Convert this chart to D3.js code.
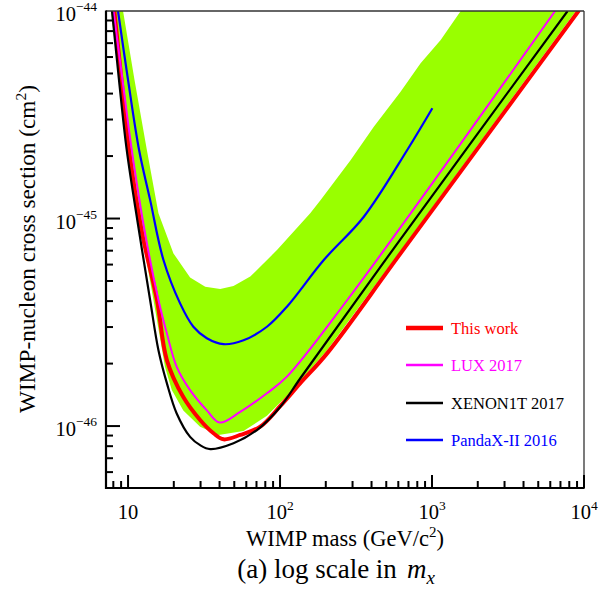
<!DOCTYPE html>
<html>
<head>
<meta charset="utf-8">
<script src="https://cdn.jsdelivr.net/npm/d3@7/dist/d3.min.js"></script>
<style>
  body { margin: 0; background: #fff; }
  svg { display: block; font-family: "Liberation Serif", "Times New Roman", serif; }
</style>
</head>
<body>
<svg id="chart" width="616" height="598"></svg>
<script>
// WIMP mass (GeV/c^2) and SI WIMP-nucleon cross section (cm^2) for each limit curve
const thisWorkMass  = [8.12, 9.06, 10.15, 12.37, 15.5, 18.0, 23.1, 29.8, 36.5, 42.5, 54.7, 74.1, 100.5, 136, 204, 621, 9200];
const thisWorkSigma = [1.0e-44, 4.65e-45, 2.14e-45, 8.51e-46, 4.05e-46, 2.08e-46, 1.38e-46, 1.07e-46, 9.23e-47, 8.63e-47, 9.06e-47, 9.93e-47, 1.25e-46, 1.61e-46, 2.24e-46, 6.79e-46, 1.0e-44];

const luxMass  = [8.02, 9.20, 10.58, 12.94, 15.85, 18.0, 20.9, 25.6, 33.0, 40.1, 54.7, 82.0, 111, 277, 6460];
const luxSigma = [1.0e-44, 4.65e-45, 2.14e-45, 8.49e-46, 4.05e-46, 2.80e-46, 1.93e-46, 1.49e-46, 1.19e-46, 1.04e-46, 1.17e-46, 1.44e-46, 1.73e-46, 4.05e-46, 1.0e-44];

const xenonMass  = [7.84, 8.72, 9.80, 11.64, 13.97, 15.85, 18.0, 20.9, 25.6, 29.8, 34.7, 49.4, 70.5, 100.5, 136, 621, 7800];
const xenonSigma = [1.0e-44, 4.65e-45, 2.14e-45, 9.31e-46, 4.05e-46, 2.32e-46, 1.61e-46, 1.15e-46, 8.87e-47, 8.09e-47, 7.74e-47, 8.26e-47, 9.57e-47, 1.24e-46, 1.70e-46, 7.96e-46, 1.0e-44];

const pandaxMass  = [8.59, 10.0, 11.82, 13.97, 17.1, 22.0, 26.9, 33.0, 42.5, 57.5, 82.0, 111, 194, 356, 687, 1005];
const pandaxSigma = [1.0e-44, 4.65e-45, 2.14e-45, 1.23e-45, 6.31e-46, 3.90e-46, 3.01e-46, 2.65e-46, 2.48e-46, 2.59e-46, 3.01e-46, 3.76e-46, 6.31e-46, 1.02e-45, 2.14e-45, 3.40e-45];

// expected sensitivity band: upper edge (low to high mass), lower edge (high to low mass)
const bandUpperMass  = [9.27, 11.03, 13.3, 15.85, 19.9, 25.6, 32.2, 40.4, 49.4, 63.7, 95.5, 158, 185, 291, 414, 621, 841, 1140, 1545];
const bandUpperSigma = [1.0e-44, 4.65e-45, 2.14e-45, 1.06e-45, 6.79e-46, 5.20e-46, 4.69e-46, 4.57e-46, 4.73e-46, 5.25e-46, 7.05e-46, 1.06e-45, 1.23e-45, 1.91e-45, 2.77e-45, 4.08e-45, 5.60e-45, 7.25e-45, 1.0e-44];
const bandLowerMass  = [8850, 1897, 603, 204, 136, 111, 82.0, 57.5, 39.4, 29.8, 23.1, 19.4, 17.5, 14.7, 12.0, 9.85, 8.72, 7.73];
const bandLowerSigma = [1.0e-44, 2.14e-45, 6.79e-46, 2.32e-46, 1.65e-46, 1.40e-46, 1.12e-46, 9.46e-47, 9.06e-47, 9.93e-47, 1.19e-46, 1.49e-46, 1.93e-46, 4.05e-46, 9.31e-46, 2.14e-45, 4.65e-45, 1.0e-44];

const xDomain = [7.16, 1e4];
const yDomain = [5.03e-47, 1e-44];
const xMajorTicks = [10, 100, 1000, 10000];
const xTickExponents = ["", "2", "3", "4"];
const yMajorTicks = [1e-44, 1e-45, 1e-46];
const yTickExponents = ["\u221244", "\u221245", "\u221246"];

const legendNames = ["This work", "LUX 2017", "XENON1T 2017", "PandaX-II 2016"];
const legendColors = ["#ff0000", "#ff00ff", "#000000", "#0000ff"];

const svg = d3.select("#chart");
const margin = { left: 106, top: 11, right: 32, bottom: 110 };
const W = 616 - margin.left - margin.right;
const H = 598 - margin.top - margin.bottom;

const x = d3.scaleLog().domain(xDomain).range([0, W]);
const y = d3.scaleLog().domain(yDomain).range([H, 0]);

const g = svg.append("g").attr("transform", `translate(${margin.left},${margin.top})`);

g.append("clipPath").attr("id", "plotClip")
  .append("rect").attr("width", W).attr("height", H);

const plot = g.append("g").attr("clip-path", "url(#plotClip)");

// band polygon
const bandPts = bandUpperMass.map((m, i) => [m, bandUpperSigma[i]])
  .concat(bandLowerMass.map((m, i) => [m, bandLowerSigma[i]]));
plot.append("path")
  .attr("d", d3.line().x(d => x(d[0])).y(d => y(d[1])).curve(d3.curveLinearClosed)(bandPts))
  .attr("fill", "#99ff00")
  .attr("stroke", "none");

const lineGen = d3.line().x(d => x(d[0])).y(d => y(d[1])).curve(d3.curveCatmullRom.alpha(0.5));
const series = [
  { mass: thisWorkMass, sigma: thisWorkSigma, color: legendColors[0], width: 4 },
  { mass: luxMass, sigma: luxSigma, color: legendColors[1], width: 2 },
  { mass: xenonMass, sigma: xenonSigma, color: legendColors[2], width: 2.2 },
  { mass: pandaxMass, sigma: pandaxSigma, color: legendColors[3], width: 2.2 }
];
series.forEach(s => {
  plot.append("path")
    .attr("d", lineGen(s.mass.map((m, i) => [m, s.sigma[i]])))
    .attr("fill", "none")
    .attr("stroke", s.color)
    .attr("stroke-width", s.width)
    .attr("stroke-linejoin", "round");
});

// frame: thin top/right, thick left/bottom axes
g.append("line").attr("x1", 0).attr("x2", W).attr("y1", 0).attr("y2", 0).attr("stroke", "#333").attr("stroke-width", 1.3);
g.append("line").attr("x1", W).attr("x2", W).attr("y1", 0).attr("y2", H).attr("stroke", "#333").attr("stroke-width", 1.3);
g.append("line").attr("x1", 0).attr("x2", 0).attr("y1", -0.6).attr("y2", H + 1).attr("stroke", "#000").attr("stroke-width", 2.2);
g.append("line").attr("x1", -1).attr("x2", W + 0.6).attr("y1", H).attr("y2", H).attr("stroke", "#000").attr("stroke-width", 2.2);

// x ticks (inward)
const xAll = [];
for (let e = 0; e <= 3; e++) for (let k = 1; k <= 9; k++) {
  const v = k * Math.pow(10, e);
  if (v >= xDomain[0] && v <= xDomain[1]) xAll.push(v);
}
xAll.push(10000);
xAll.forEach(v => {
  const major = xMajorTicks.includes(v);
  g.append("line").attr("x1", x(v)).attr("x2", x(v)).attr("y1", H).attr("y2", H - (major ? 13 : 7))
    .attr("stroke", "#000").attr("stroke-width", 2);
});

// y ticks (inward)
const yAll = [];
for (let e = -47; e <= -45; e++) for (let k = 1; k <= 9; k++) {
  const v = k * Math.pow(10, e);
  if (v >= yDomain[0] * 0.999 && v <= yDomain[1] * 1.001) yAll.push(v);
}
yAll.forEach(v => {
  const major = yMajorTicks.some(t => Math.abs(t - v) / t < 1e-6);
  g.append("line").attr("x1", 0).attr("x2", major ? 14 : 7).attr("y1", y(v)).attr("y2", y(v))
    .attr("stroke", "#000").attr("stroke-width", 2);
});

// x tick labels
xMajorTicks.forEach((v, i) => {
  const t = g.append("text").attr("x", x(v)).attr("y", H + 31).attr("text-anchor", "middle")
    .attr("font-size", 20.5).attr("fill", "#000");
  t.append("tspan").text("10");
  if (xTickExponents[i]) t.append("tspan").attr("font-size", 13.5).attr("dy", -9).text(xTickExponents[i]);
});

// y tick labels
yMajorTicks.forEach((v, i) => {
  const t = g.append("text").attr("x", -9).attr("y", y(v) + 10).attr("text-anchor", "end")
    .attr("font-size", 20.5).attr("fill", "#000");
  t.append("tspan").text("10");
  t.append("tspan").attr("font-size", 13.5).attr("dy", -10).text(yTickExponents[i]);
});

// axis titles
const xt = svg.append("text").attr("x", margin.left + W / 2).attr("y", 546).attr("text-anchor", "middle")
  .attr("font-size", 22.5).attr("fill", "#000");
xt.append("tspan").text("WIMP mass (GeV/c");
xt.append("tspan").attr("font-size", 15).attr("dy", -9).text("2");
xt.append("tspan").attr("dy", 9).text(")");

const yt = svg.append("text").attr("transform", "translate(35,249) rotate(-90)").attr("text-anchor", "middle")
  .attr("font-size", 23.3).attr("fill", "#000");
yt.append("tspan").text("WIMP-nucleon cross section (cm");
yt.append("tspan").attr("font-size", 15.5).attr("dy", -9).text("2");
yt.append("tspan").attr("dy", 9).text(")");

// caption
const cap = svg.append("text").attr("x", 336).attr("y", 578).attr("text-anchor", "middle")
  .attr("font-size", 27).attr("fill", "#000");
cap.append("tspan").text("(a) log scale in");
cap.append("tspan").attr("dx", 10).attr("font-style", "italic").text("m");
cap.append("tspan").attr("font-style", "italic").attr("font-size", 19).attr("dy", 6).text("x");

// legend
const legendY = [328, 365, 403, 440];
const legendW = [4.5, 2.5, 2.5, 2.5];
legendNames.forEach((name, i) => {
  svg.append("line").attr("x1", 406).attr("x2", 443).attr("y1", legendY[i]).attr("y2", legendY[i])
    .attr("stroke", legendColors[i]).attr("stroke-width", legendW[i]);
  svg.append("text").attr("x", 451).attr("y", legendY[i] + 5.5).attr("font-size", 16.5)
    .attr("fill", legendColors[i]).text(name);
});
</script>
</body>
</html>
